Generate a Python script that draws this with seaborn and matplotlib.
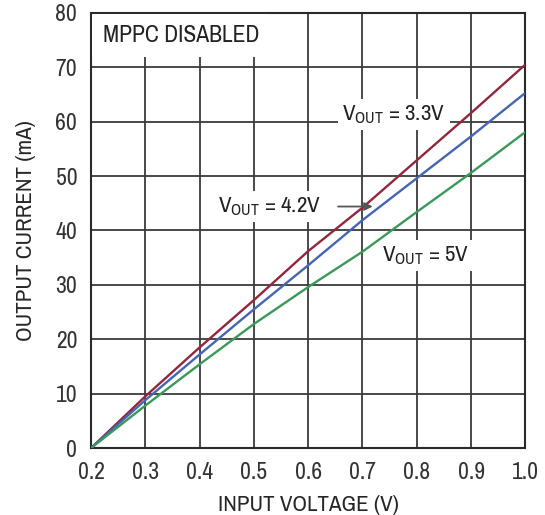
import numpy as np
import pandas as pd
import matplotlib
matplotlib.use("Agg")
import matplotlib.pyplot as plt
import seaborn as sns

# data
input_voltage = [0.2, 0.3, 0.4, 0.5, 0.6, 0.7, 0.8, 0.9, 1.0]
i_out_3v3 = [0.0, 9.5, 18.5, 27.2, 36.2, 44.2, 52.9, 61.6, 70.5]
i_out_4v2 = [0.0, 8.8, 17.2, 25.5, 33.6, 41.9, 49.6, 57.3, 65.3]
i_out_5v = [0.0, 7.8, 15.4, 22.8, 29.6, 36.1, 43.4, 50.6, 58.1]

series_names = ["3.3V", "4.2V", "5V"]
line_colors = ["#93263c", "#4465b4", "#3a9858"]

x_ticks = [0.2, 0.3, 0.4, 0.5, 0.6, 0.7, 0.8, 0.9, 1.0]
x_tick_labels = ["0.2", "0.3", "0.4", "0.5", "0.6", "0.7", "0.8", "0.9", "1.0"]
y_ticks = [0, 10, 20, 30, 40, 50, 60, 70, 80]

FONT = ["Archivo Narrow", "Roboto Condensed", "Liberation Sans", "DejaVu Sans"]

sns.set_theme(style="white")
plt.rcParams["font.family"] = FONT
plt.rcParams["mathtext.fontset"] = "custom"
plt.rcParams["mathtext.rm"] = "Archivo Narrow"
plt.rcParams["mathtext.it"] = "Archivo Narrow"
plt.rcParams["text.color"] = "#222222"

df = pd.DataFrame({
    "vin": input_voltage * 3,
    "iout": i_out_3v3 + i_out_4v2 + i_out_5v,
    "vout": [n for n in series_names for _ in input_voltage],
})

fig = plt.figure(figsize=(5.45, 5.15), dpi=100)
ax = fig.add_axes([0.167, 0.130, 0.797, 0.845])

grid_kw = dict(color="#3a3a3a", lw=1.3, zorder=1)
for xv in x_ticks[1:-1]:
    ax.axvline(xv, **grid_kw)
for yv in y_ticks[1:-1]:
    ax.axhline(yv, **grid_kw)

sns.lineplot(data=df, x="vin", y="iout", hue="vout", palette=line_colors,
             linewidth=1.7, legend=False, ax=ax, zorder=5)

ax.text(0.222, 74.7, "MPPC DISABLED", fontsize=17, va="baseline", ha="left",
        bbox=dict(facecolor="white", edgecolor="none", pad=8), zorder=4,
        clip_on=True)

box = dict(facecolor="white", edgecolor="none", pad=3)
ax.text(0.663, 60.3, r"V$_{\mathrm{OUT}}$ = 3.3V", fontsize=16.5, va="baseline",
        ha="left", bbox=box, zorder=4)
ax.text(0.434, 43.4, r"V$_{\mathrm{OUT}}$ = 4.2V", fontsize=16.5, va="baseline",
        ha="left", bbox=box, zorder=4)
ax.annotate("", xy=(0.724, 44.4), xytext=(0.65, 44.4),
            arrowprops=dict(arrowstyle="-|>", color="#555555", lw=1.3,
                            mutation_scale=12), zorder=6)
ax.text(0.736, 34.3, r"V$_{\mathrm{OUT}}$ = 5V", fontsize=16.5, va="baseline",
        ha="left", bbox=box, zorder=4)

ax.set_xlim(0.2, 1.0)
ax.set_ylim(0, 80)
ax.set_xticks(x_ticks)
ax.set_xticklabels(x_tick_labels)
ax.set_yticks(y_ticks)
ax.tick_params(axis="both", length=0, labelsize=17, colors="#333333")
ax.tick_params(axis="x", pad=10)
ax.tick_params(axis="y", pad=10)
ax.set_xlabel("INPUT VOLTAGE (V)", fontsize=16.5, labelpad=9)
ax.set_ylabel("OUTPUT CURRENT (mA)", fontsize=16.5, labelpad=14)
for sp in ax.spines.values():
    sp.set_visible(True)
    sp.set_color("#2a2a2a")
    sp.set_linewidth(1.5)

fig.savefig("out.png", dpi=100)
